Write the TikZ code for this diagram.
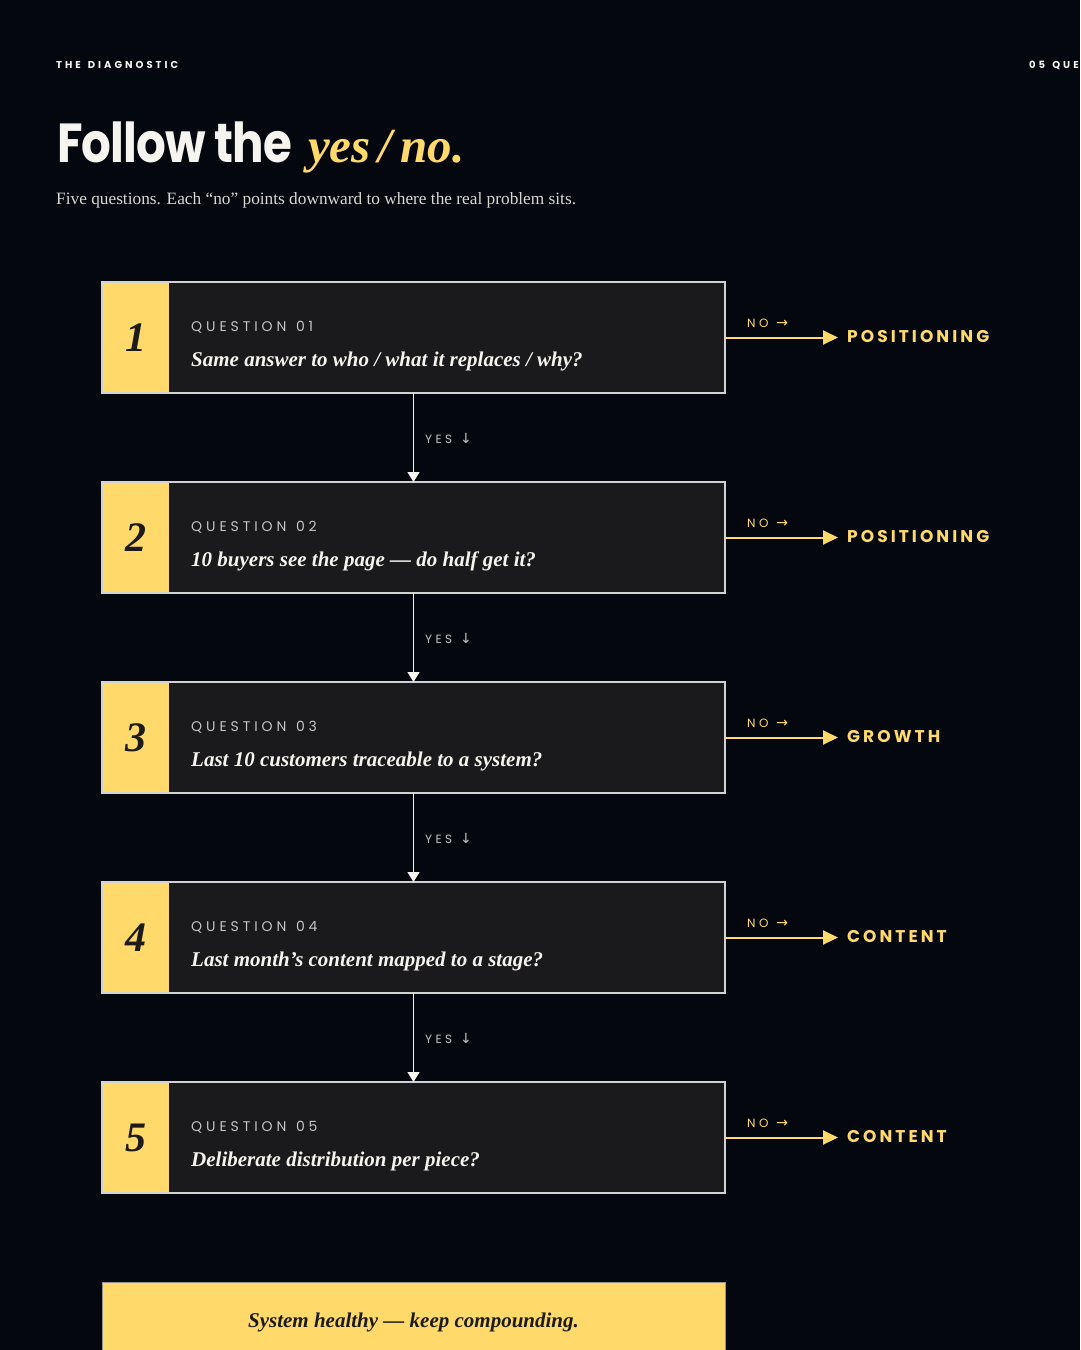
\documentclass[tikz,border=0pt]{standalone}
\usepackage{fontspec}
\setmainfont{Liberation Serif}
\newfontfamily\pop{Poppins}
\newfontfamily\popT{Poppins}[LetterSpace=-2]
\newfontfamily\capsA{Poppins}[LetterSpace=30]
\newfontfamily\capsB{Poppins}[LetterSpace=28]
\newfontfamily\capsC{Poppins}[LetterSpace=18]
\newfontfamily\dejavu{DejaVu Sans}
\usetikzlibrary{arrows.meta}
\definecolor{bg}{HTML}{05070F}
\definecolor{yel}{HTML}{FFD96A}
\definecolor{boxfill}{HTML}{1A1A1C}
\definecolor{boxline}{HTML}{D2D2D2}
\definecolor{lab}{HTML}{C4C4C4}
\definecolor{wht}{HTML}{F6F4EE}
\definecolor{ink}{HTML}{1C1B19}
\tikzset{
  qbox/.style={fill=boxfill, minimum width=623pt, minimum height=111pt, inner sep=0pt, outer sep=0pt, anchor=north west},
  numbox/.style={fill=yel, minimum width=67pt, minimum height=111pt, inner sep=0pt, outer sep=0pt, anchor=north west, text=ink,
    font=\fontsize{42}{42}\selectfont\bfseries\itshape},
  border/.style={draw=boxline, line width=1.2pt},
  qlabel/.style={anchor=base west, inner sep=0pt, text=lab, font=\capsB\fontsize{14}{14}\selectfont},
  qtext/.style={anchor=base west, inner sep=0pt, text=wht, font=\fontsize{21}{21}\selectfont\bfseries\itshape},
  nolabel/.style={anchor=base west, inner sep=0pt, text=yel, font=\capsB\fontsize{12}{12}\selectfont},
  yeslabel/.style={anchor=base west, inner sep=0pt, text=lab, font=\capsB\fontsize{12}{12}\selectfont},
  target/.style={anchor=base west, inner sep=0pt, text=yel, font=\capsC\fontsize{17}{17}\selectfont\bfseries},
  yesarrow/.style={draw=wht, line width=1.3pt, -{Triangle[length=10pt,width=12pt]}},
  noarrow/.style={draw=yel, line width=2pt, -{Triangle[length=15pt,width=14pt]}},
}
\newcommand\arr[1]{\kern 8pt{\dejavu\fontsize{14}{14}\selectfont #1}}
\newcommand\qblock[4]{%
  \node[qbox] (q#1) at (102,#2) {};
  \node[numbox] (n#1) at (102,#2) {#1};
  \draw[border] (q#1.north west) rectangle (q#1.south east);
  \node[qlabel] (ql#1) at (191,#2+49) {QUESTION\kern2pt\ 0#1};
  \node[qtext] (qt#1) at (191,#2+84) {#3};
  \node[nolabel] (no#1) at (747,#2+45) {NO\arr{→}};
  \coordinate (tip#1) at (838,#2+55.5);
  \node[target] (t#1) at (847,#2+60) {#4};
  \draw[noarrow] (q#1.east) -- (tip#1);
}
\begin{document}
\begin{tikzpicture}[x=1pt,y=-1pt]
\fill[bg] (0,0) rectangle (1080,1350);
\useasboundingbox (0,0) rectangle (1080,1350);
\clip (0,0) rectangle (1080,1350);
% header
\node[anchor=base west, inner sep=0pt, text=wht, font=\capsA\fontsize{10}{10}\selectfont\bfseries] (hdl) at (56,68) {THE\kern2pt\ DIAGNOSTIC};
\node[anchor=base west, inner sep=0pt, text=wht, font=\capsA\fontsize{10}{10}\selectfont\bfseries] (hdr) at (1029,68) {05\kern2pt\ QUE};
\node[anchor=base west, inner sep=0pt, text=wht, font=\popT\fontsize{55}{55}\selectfont\bfseries] (title) at (57,162) {\scalebox{0.85}[1]{Follow the}};
\node[anchor=base west, inner sep=0pt, text=yel, font=\fontsize{49}{49}\selectfont\bfseries\itshape] (yesno) at (308,162) {yes\,/\,no.};
\node[anchor=base west, inner sep=0pt, text=wht!88!black, font=\fontsize{17.3}{17.3}\selectfont] (sub) at (56,204) {Five questions. Each “no” points downward to where the real problem sits.};
% blocks
\qblock{1}{282}{Same answer to who / what it replaces / why?}{POSITIONING}
\qblock{2}{482}{10 buyers see the page — do half get it?}{POSITIONING}
\qblock{3}{682}{Last 10 customers traceable to a system?}{GROWTH}
\qblock{4}{882}{Last month's content mapped to a stage?}{CONTENT}
\qblock{5}{1082}{Deliberate distribution per piece?}{CONTENT}
% yes arrows
\foreach \a/\b in {1/2,2/3,3/4,4/5}{
  \draw[yesarrow] (q\a.south) -- (q\b.north);
}
\foreach \a/\y in {1/443,2/643,3/843,4/1043}{
  \node[yeslabel] (yes\a) at (425,\y) {YES\arr{↓}};
}
% final
\node[fill=yel, draw=boxline!70!black, line width=1.2pt, anchor=north west, minimum width=623pt, minimum height=90pt, inner sep=0pt] (final) at (102,1282) {};
\node[anchor=base, inner sep=0pt, text=ink, font=\fontsize{21}{21}\selectfont\bfseries\itshape] (finaltext) at (413.5,1327) {System healthy — keep compounding.};
\end{tikzpicture}
\end{document}
